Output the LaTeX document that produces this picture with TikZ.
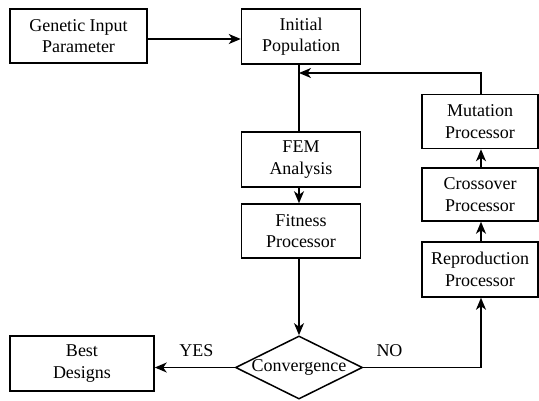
\documentclass[tikz,border=0pt]{standalone}
\usepackage{fontspec}
\setmainfont{Liberation Serif}
\usetikzlibrary{shapes.geometric,arrows.meta}
\begin{document}
\begin{tikzpicture}[x=1pt,y=-1pt,
  font=\fontsize{18}{21.5}\selectfont,
  box/.style={draw,line width=1.5pt,align=center,inner sep=0pt},
  dia/.style={draw,line width=1.5pt,diamond,aspect=2,inner sep=0pt},
  conn/.style={line width=1.5pt},
  arr/.style={line width=1.5pt,-{Stealth[length=12pt,width=10pt,inset=3.5pt]}}]
\useasboundingbox (0,0) rectangle (539,400);
\node[box,minimum width=137pt,minimum height=54pt] (gen) at (78.5,36) {Genetic Input\\Parameter};
\node[box,minimum width=119pt,minimum height=55pt] (init) at (301,36.5) {Initial\\Population};
\node[box,minimum width=119pt,minimum height=55pt] (fem) at (301,159.5) {FEM\\Analysis};
\node[box,minimum width=119pt,minimum height=54pt] (fit) at (301,231) {Fitness\\Processor};
\node[dia,minimum width=127pt,minimum height=63pt] (conv) at (299,367.5) {Convergence};
\node[box,minimum width=144pt,minimum height=55pt] (best) at (82,363.5) {Best\\Designs};
\node[box,minimum width=116pt,minimum height=54pt] (mut) at (480,121.5) {Mutation\\Processor};
\node[box,minimum width=116pt,minimum height=53pt] (cross) at (480,194.5) {Crossover\\Processor};
\node[box,minimum width=116pt,minimum height=55pt] (rep) at (480,269.5) {Reproduction\\Processor};
\coordinate (fb) at (299,73);
\node (yes) at (196.5,351) {YES};
\node (no) at (389.5,351) {NO};
\draw[arr] ([yshift=-3pt]gen.east) -- ([yshift=-3pt]gen.east -| init.west);
\draw[conn] (init.south -| fb) -- (fem.north -| fb);
\draw[arr] (mut.north -| 481,0) |- (fb);
\draw[arr] (fem.south -| fb) -- (fit.north -| fb);
\draw[arr] (fit.south -| conv.north) -- (conv.north);
\draw[arr] (conv.west) -- (conv.west -| best.east);
\draw[arr] (conv.east) -| (rep.south -| 481,0);
\draw[arr] (rep.north -| 481,0) -- (cross.south -| 481,0);
\draw[arr] (cross.north -| 481,0) -- (mut.south -| 481,0);
\end{tikzpicture}
\end{document}
